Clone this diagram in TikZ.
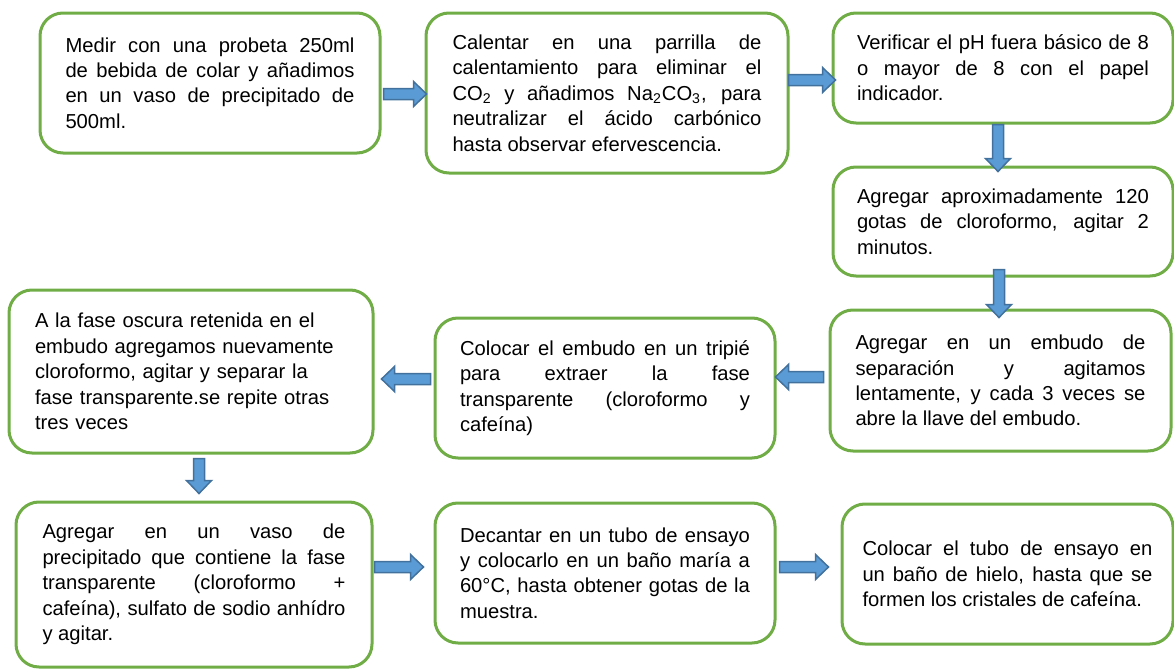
\documentclass[tikz,border=0pt]{standalone}
\usepackage{fontspec}
\setmainfont{Liberation Sans}
\usepackage{tikz}
\usetikzlibrary{calc}

\definecolor{boxgreen}{HTML}{70AD47}
\definecolor{arrowfill}{HTML}{5B9BD5}
\definecolor{arrowline}{HTML}{41719C}

\newcommand{\boxfont}{\fontsize{10.1pt}{12.7pt}\selectfont\hyphenpenalty=10000\exhyphenpenalty=10000}

\tikzset{
  stepbox/.style={draw=boxgreen, line width=1.5pt, rounded corners=11.5pt, fill=white,
    inner sep=0pt, align=justify, font=\boxfont},
  blockarrow/.style={fill=arrowfill, draw=arrowline, line width=0.75pt, line join=miter}
}

% block arrows between two named points
\newcommand{\hblockarrow}[2]{%
  \draw[blockarrow] let \p1=(#1), \p2=(#2), \n1={ifthenelse(\x2>\x1,6.5,-6.5)} in
    (\x1,\y1+2.75pt) -- (\x2-\n1,\y1+2.75pt) -- (\x2-\n1,\y1+6.25pt) -- (\x2,\y1)
    -- (\x2-\n1,\y1-6.25pt) -- (\x2-\n1,\y1-2.75pt) -- (\x1,\y1-2.75pt) -- cycle;}
\newcommand{\vblockarrow}[2]{%
  \draw[blockarrow] let \p1=(#1), \p2=(#2), \n1={ifthenelse(\y2>\y1,6.5,-6.5)} in
    (\x1+2.75pt,\y1) -- (\x1+2.75pt,\y2-\n1) -- (\x1+6.25pt,\y2-\n1) -- (\x1,\y2)
    -- (\x1-6.25pt,\y2-\n1) -- (\x1-2.75pt,\y2-\n1) -- (\x1-2.75pt,\y1) -- cycle;}

\begin{document}
\begin{tikzpicture}[x=0.5pt, y=-0.5pt]
    \useasboundingbox (0,0) rectangle (1174,669);

    % top row
    \node[stepbox, text width=144.5pt, minimum width=170pt, minimum height=70pt] (b1) at (210,83)
        {Medir con una probeta 250ml\linebreak de bebida de colar y añadimos\linebreak en un vaso de precipitado de\linebreak 500ml.};
    \node[stepbox, text width=154.5pt, minimum width=181pt, minimum height=80pt] (b2) at (607,93)
        {Calentar en una parrilla de\linebreak calentamiento para eliminar el\linebreak CO\textsubscript{2} y añadimos Na\textsubscript{2}CO\textsubscript{3}, para\linebreak neutralizar el ácido carbónico\linebreak hasta observar efervescencia.};
    \node[stepbox, text width=146pt, minimum width=170pt, minimum height=55pt] (b3) at (1003,68)
        {Verificar el pH fuera básico de 8\linebreak o mayor de 8 con el papel\linebreak indicador.};
    \node[stepbox, text width=146pt, minimum width=170pt, minimum height=54.5pt] (b4) at (1003,221.5)
        {Agregar aproximadamente 120\linebreak gotas de cloroformo, agitar 2\linebreak minutos.};

    % middle row
    \node[stepbox, text width=145pt, minimum width=170.5pt, minimum height=70.5pt] (b5) at (1000.5,380.5)
        {Agregar en un embudo de\linebreak separación y agitamos\linebreak lentamente, y cada 3 veces se\linebreak abre la llave del embudo.};
    \node[stepbox, text width=145pt, minimum width=170pt, minimum height=70pt] (b6) at (605,388)
        {Colocar el embudo en un tripié\linebreak para extraer la fase\linebreak transparente (cloroformo y\linebreak cafeína)};
    \node[stepbox, align=left, text width=156pt, minimum width=182pt, minimum height=81.5pt] (b7) at (191,371.5)
        {A la fase oscura retenida en el\\ embudo agregamos nuevamente\\ cloroformo, agitar y separar la\\ fase transparente.se repite otras\\ tres veces};

    % bottom row
    \node[stepbox, text width=151.5pt, minimum width=178pt, minimum height=82.5pt] (b8) at (194,584.5)
        {Agregar en un vaso de\linebreak precipitado que contiene la fase\linebreak transparente (cloroformo +\linebreak cafeína), sulfato de sodio anhídro\linebreak y agitar.};
    \node[stepbox, text width=145pt, minimum width=170pt, minimum height=70pt] (b9) at (605,573)
        {Decantar en un tubo de ensayo\linebreak y colocarlo en un baño maría a\linebreak 60°C, hasta obtener gotas de la\linebreak muestra.};
    \node[stepbox, text width=145pt, minimum width=165.5pt, minimum height=70pt] (b10) at (1007.5,574)
        {Colocar el tubo de ensayo en\linebreak un baño de hielo, hasta que se\linebreak formen los cristales de cafeína.};

    % arrows
    \hblockarrow{[xshift=1pt,yshift=-5.5pt]b1.east}{[xshift=1pt]b2.west}
    \hblockarrow{[xshift=-0.5pt,yshift=6.5pt]b2.east}{[xshift=2pt]b3.west}
    \vblockarrow{[xshift=-2.5pt]b3.south}{[xshift=-2.5pt,yshift=-3pt]b4.north}
    \vblockarrow{[xshift=-2pt,yshift=4pt]b4.south}{[yshift=-4.5pt]b5.north}
    \hblockarrow{[xshift=-2.5pt,yshift=1.75pt]b5.west}{[xshift=-0.5pt]b6.east}
    \hblockarrow{[xshift=-1.5pt,yshift=4.5pt]b6.west}{[xshift=3.5pt]b7.east}
    \vblockarrow{[xshift=4pt,yshift=-2pt]b7.south}{[yshift=3.5pt]b8.north}
    \hblockarrow{[xshift=0.5pt,yshift=8.75pt]b8.east}{[xshift=-5pt]b9.west}
    \hblockarrow{[xshift=1.5pt,yshift=3pt]b9.east}{[xshift=-6pt]b10.west}
\end{tikzpicture}
\end{document}
